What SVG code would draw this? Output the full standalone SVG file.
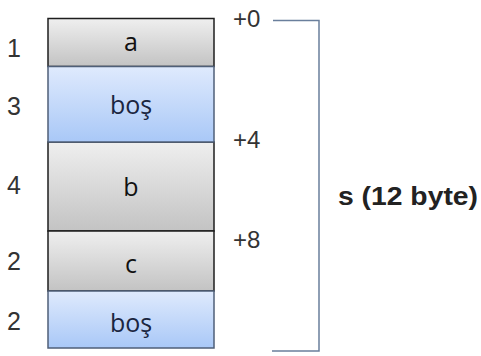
<svg xmlns="http://www.w3.org/2000/svg" width="481" height="356" viewBox="0 0 481 356">
<style>
.num{font-family:"Liberation Sans",Arial,sans-serif;font-size:25px;fill:#333}
.lbl{font-family:"Open Sans","Noto Sans",sans-serif;font-size:25px;fill:#111;text-anchor:middle}
.blbl{fill:#1a2540}
.off{font-family:"Liberation Sans",Arial,sans-serif;font-size:24px;fill:#333}
.ttl{font-family:"Liberation Sans",Arial,sans-serif;font-size:26px;font-weight:bold;fill:#222}
.gray{fill:url(#gg);stroke:#1e1e1e;stroke-width:1.5}
.blue{fill:url(#bg);stroke:#4f5f78;stroke-width:1.5}
.br{fill:none;stroke:#6a7f9c;stroke-width:1.5}
</style>
<defs>
<linearGradient id="gg" x1="0" y1="0" x2="0" y2="1">
<stop offset="0" stop-color="#efefef"/>
<stop offset="1" stop-color="#c3c3c3"/>
</linearGradient>
<linearGradient id="bg" x1="0" y1="0" x2="0" y2="1">
<stop offset="0" stop-color="#dfeafd"/>
<stop offset="1" stop-color="#a9c8f7"/>
</linearGradient>
</defs>
<g id="field-a"><rect class="gray" x="48" y="18.5" width="166" height="48"/><text class="lbl" x="131" y="51">a</text></g>
<g id="field-b"><rect class="gray" x="48" y="142" width="166" height="89"/><text class="lbl" x="131" y="196">b</text></g>
<g id="field-c"><rect class="gray" x="48" y="231" width="166" height="60"/><text class="lbl" x="131" y="273">c</text></g>
<g id="pad-1"><rect class="blue" x="48" y="66.5" width="166" height="75.5"/><text class="lbl blbl" x="131" y="114">boş</text></g>
<g id="pad-2"><rect class="blue" x="48" y="291" width="166" height="57"/><text class="lbl blbl" x="131" y="332">boş</text></g>
<g id="sizes">
<text class="num" x="7" y="57">1</text>
<text class="num" x="7" y="115">3</text>
<text class="num" x="7" y="194">4</text>
<text class="num" x="7" y="270">2</text>
<text class="num" x="7" y="330">2</text>
</g>
<g id="offsets">
<text class="off" x="233" y="27">+0</text>
<text class="off" x="233" y="148">+4</text>
<text class="off" x="233" y="248">+8</text>
</g>
<g id="connectors">
<polyline class="br" points="273,20.5 319,20.5 319,351 272,351"/>
</g>
<g id="struct"><text class="ttl" x="338" y="205" textLength="140" lengthAdjust="spacingAndGlyphs">s (12 byte)</text></g>
</svg>
